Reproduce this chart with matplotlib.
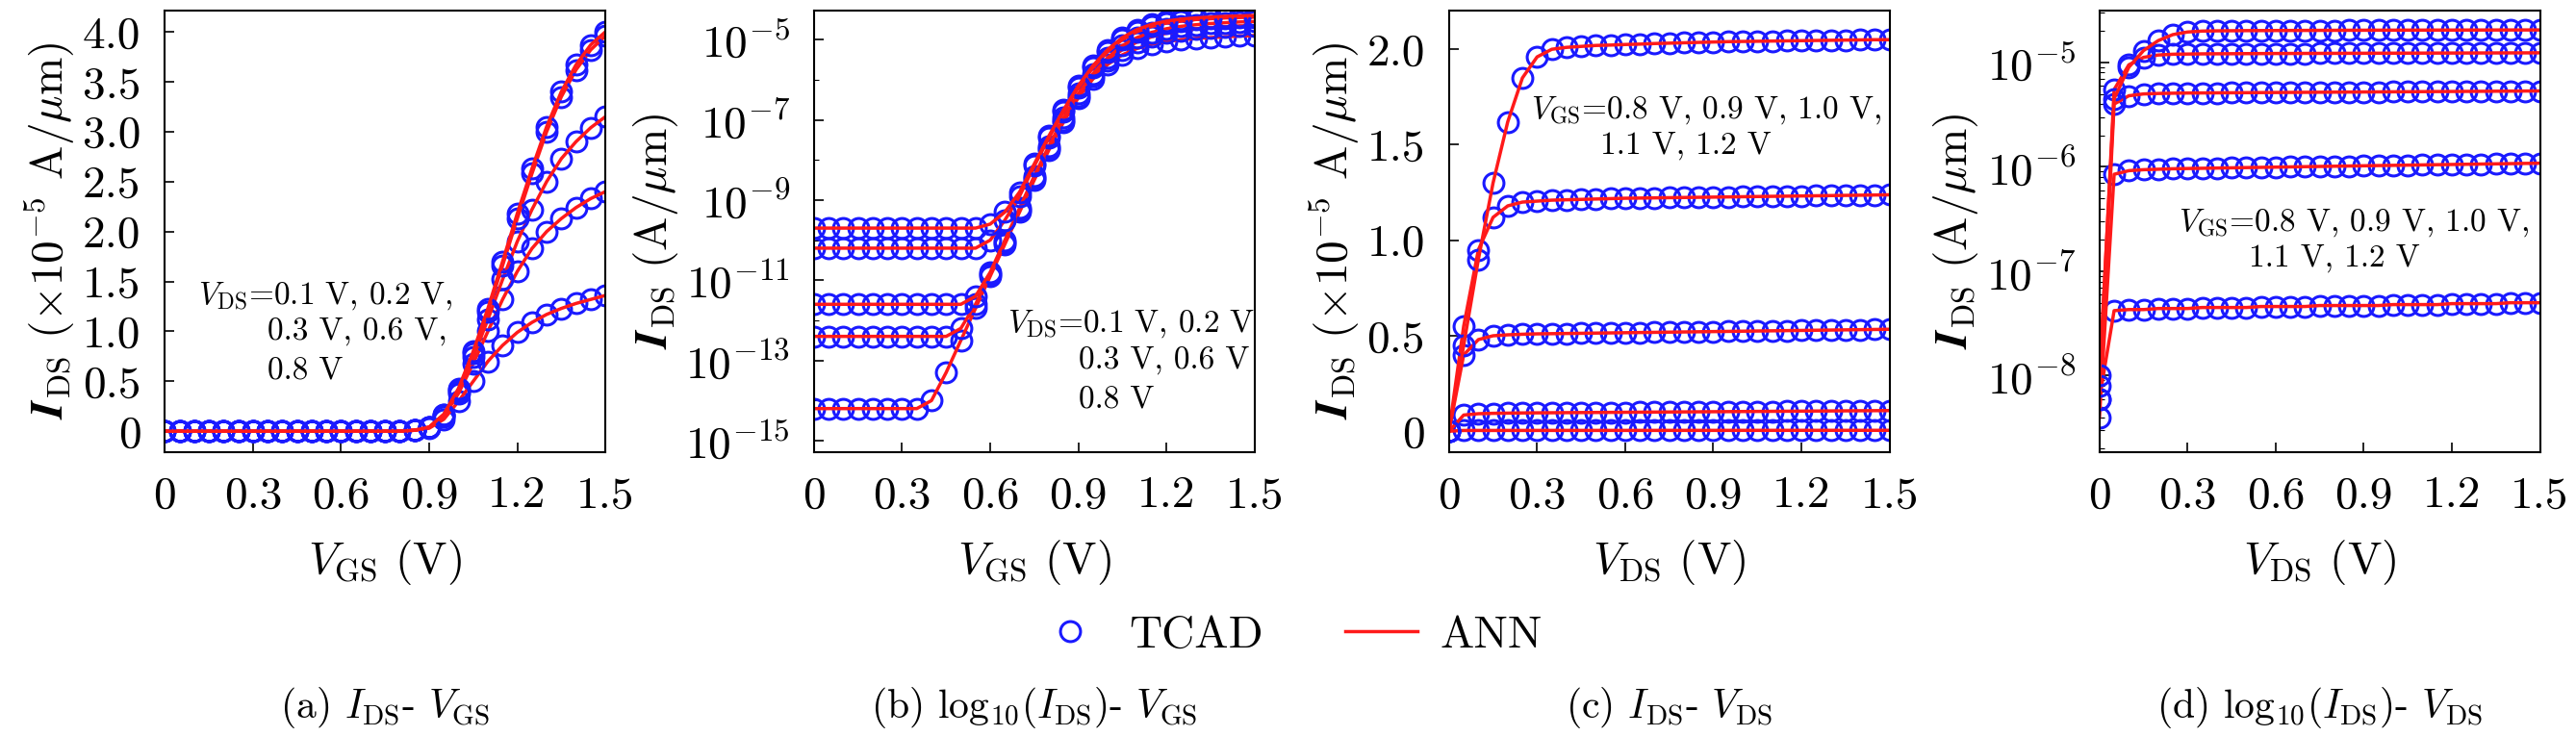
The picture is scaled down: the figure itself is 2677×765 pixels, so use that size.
import numpy as np
import matplotlib
matplotlib.use("Agg")
import matplotlib.pyplot as plt
from matplotlib.lines import Line2D

plt.rcParams['font.family'] = ['cmr10', 'DejaVu Serif']
plt.rcParams['mathtext.fontset'] = 'cm'
plt.rcParams['axes.formatter.use_mathtext'] = True
plt.rcParams['axes.unicode_minus'] = False

# ---------------- data ----------------
vgs = [0.0, 0.05, 0.1, 0.15, 0.2, 0.25, 0.3, 0.35, 0.4, 0.45, 0.5, 0.55, 0.6, 0.65, 0.7, 0.75,
       0.8, 0.85, 0.9, 0.95, 1.0, 1.05, 1.1, 1.15, 1.2, 1.25, 1.3, 1.35, 1.4, 1.45, 1.5]
vds = vgs
vds_labels = ["0.1", "0.2", "0.3", "0.6", "0.8"]
vgs_labels = ["0.8", "0.9", "1.0", "1.1", "1.2"]

zero18 = [0.0] * 17 + [0.01]
# (a) I_DS (x1e-5 A/um) vs V_GS
a_vds01 = zero18 + [0.03, 0.12, 0.30, 0.50, 0.70, 0.86, 0.99, 1.09, 1.17, 1.23, 1.28, 1.32, 1.36]
a_vds02 = zero18 + [0.04, 0.15, 0.38, 0.68, 1.00, 1.32, 1.60, 1.83, 2.00, 2.13, 2.24, 2.33, 2.40]
a_vds03 = zero18 + [0.04, 0.16, 0.40, 0.74, 1.12, 1.52, 1.90, 2.22, 2.50, 2.73, 2.90, 3.04, 3.15]
a_vds06 = zero18 + [0.04, 0.17, 0.42, 0.78, 1.20, 1.66, 2.13, 2.58, 3.00, 3.35, 3.62, 3.82, 3.96]
a_vds08 = zero18 + [0.04, 0.17, 0.43, 0.80, 1.23, 1.70, 2.18, 2.63, 3.05, 3.40, 3.67, 3.87, 4.00]
a_series = [a_vds01, a_vds02, a_vds03, a_vds06, a_vds08]

# (b) log10(I_DS) vs V_GS
b_vds01 = [-14.2]*8 + [-14.0, -13.3, -12.5, -11.7, -10.9, -10.1, -9.3, -8.5, -7.75, -7.05, -6.45, -5.98,
                       -5.62, -5.38, -5.22, -5.12, -5.05, -5.0, -4.97, -4.95, -4.93, -4.91, -4.9]
b_vds02 = [-12.4]*10 + [-12.2, -11.6, -10.85, -10.05, -9.25, -8.45, -7.7, -7.0, -6.4, -5.9, -5.52,
                        -5.25, -5.06, -4.93, -4.84, -4.78, -4.73, -4.7, -4.68, -4.66, -4.65]
b_vds03 = [-11.6]*11 + [-11.4, -10.8, -10.0, -9.2, -8.4, -7.65, -6.95, -6.35, -5.85, -5.45, -5.15,
                        -4.95, -4.82, -4.73, -4.67, -4.63, -4.6, -4.58, -4.56, -4.55]
b_vds06 = [-10.2]*12 + [-10.0, -9.5, -8.9, -8.15, -7.45, -6.8, -6.2, -5.7, -5.3, -5.0, -4.8, -4.67,
                        -4.59, -4.54, -4.5, -4.48, -4.46, -4.45, -4.44]
b_vds08 = [-9.7]*12 + [-9.6, -9.3, -8.8, -8.1, -7.4, -6.75, -6.15, -5.65, -5.25, -4.95, -4.75, -4.62,
                       -4.54, -4.49, -4.46, -4.44, -4.42, -4.41, -4.4]
b_series = [b_vds01, b_vds02, b_vds03, b_vds06, b_vds08]

# (c) I_DS (x1e-5 A/um) vs V_DS
c_vgs08 = [0.0006, 0.0042, 0.0043, 0.0043, 0.0044, 0.0044, 0.0044, 0.0045, 0.0045, 0.0045, 0.0045,
           0.0046, 0.0046, 0.0046, 0.0046, 0.0047, 0.0047, 0.0047, 0.0047, 0.0047, 0.0048, 0.0048,
           0.0048, 0.0048, 0.0049, 0.0049, 0.0049, 0.0049, 0.005, 0.005, 0.005]
c_vgs09 = [0.0004, 0.085, 0.092, 0.094, 0.095, 0.096, 0.0965, 0.097, 0.0975, 0.098, 0.0985, 0.099,
           0.0995, 0.1, 0.1005, 0.101, 0.1015, 0.102, 0.1025, 0.103, 0.1035, 0.104, 0.1045, 0.105,
           0.1055, 0.106, 0.1065, 0.107, 0.1075, 0.108, 0.1085]
c_vgs10 = [0.0006, 0.40, 0.48, 0.50, 0.505, 0.508, 0.51, 0.511, 0.512, 0.513, 0.514, 0.515, 0.516,
           0.517, 0.518, 0.519, 0.52, 0.521, 0.522, 0.523, 0.524, 0.525, 0.526, 0.527, 0.528, 0.529,
           0.53, 0.531, 0.532, 0.533, 0.534]
c_vgs11 = [0.0008, 0.55, 0.95, 1.12, 1.18, 1.2, 1.205, 1.21, 1.212, 1.214, 1.216, 1.218, 1.22, 1.221,
           1.222, 1.223, 1.224, 1.225, 1.226, 1.227, 1.228, 1.229, 1.23, 1.231, 1.232, 1.233, 1.234,
           1.235, 1.236, 1.237, 1.238]
c_vgs12 = [0.001, 0.45, 0.9, 1.3, 1.62, 1.85, 1.96, 2.0, 2.01, 2.015, 2.02, 2.022, 2.025, 2.027, 2.03,
           2.032, 2.034, 2.036, 2.038, 2.04, 2.041, 2.042, 2.043, 2.044, 2.045, 2.046, 2.047, 2.048,
           2.049, 2.05, 2.05]
c_series = [c_vgs08, c_vgs09, c_vgs10, c_vgs11, c_vgs12]

xticks = [0, 0.3, 0.6, 0.9, 1.2, 1.5]
xticklabels = ["0", "0.3", "0.6", "0.9", "1.2", "1.5"]

# ---------------- figure ----------------
fig = plt.figure(figsize=(26.77, 7.65), dpi=100)
bottom, height = 0.386, 0.600
lefts = [0.064, 0.316, 0.5625, 0.815]
width = 0.171
axs = [fig.add_axes([l, bottom, width, height]) for l in lefts]

mk = dict(ls='none', marker='o', ms=15, mfc='none', mec='#1a1aff', mew=2.2)
ln = dict(color='#ff1a1a', lw=2.5)
FS = 34

def style(ax):
    ax.tick_params(direction='in', which='both', labelsize=FS, pad=18)
    ax.tick_params(which='major', length=7, width=1.2)
    ax.tick_params(which='minor', length=3.5, width=0.8)
    for s in ax.spines.values():
        s.set_linewidth(1.5)
    ax.set_xlim(0, 1.5)
    ax.set_xticks(xticks)
    ax.set_xticklabels(xticklabels)

# (a)
ax = axs[0]
for s in a_series:
    ax.plot(vgs, s, **mk)
    ax.plot(vgs, s, **ln)
style(ax)
ax.set_ylim(-0.207, 4.216)
ax.set_yticks([0, 0.5, 1.0, 1.5, 2.0, 2.5, 3.0, 3.5, 4.0])
ax.set_yticklabels(["0", "0.5", "1.0", "1.5", "2.0", "2.5", "3.0", "3.5", "4.0"])
ax.set_xlabel(r"$V_{\rm GS}$ (V)", fontsize=FS, labelpad=16)
ax.set_ylabel(r"$\boldsymbol{I}_{\rm DS}$ ($\times10^{-5}$ A/$\mu$m)", fontsize=FS)
ax.text(0.075, 0.39, r"$V_{\rm DS}$=" + ", ".join(v + " V" for v in vds_labels[:2]) + ",",
        transform=ax.transAxes, fontsize=24, va='top')
ax.text(0.234, 0.305, ", ".join(v + " V" for v in vds_labels[2:4]) + ",\n" + vds_labels[4] + " V",
        transform=ax.transAxes, fontsize=24, va='top', linespacing=1.5)

# (b)
ax = axs[1]
for s in b_series:
    y = 10.0 ** np.array(s)
    ax.plot(vgs, y, **mk)
    ax.plot(vgs, y, **ln)
ax.set_yscale('log')
style(ax)
ax.set_ylim(10 ** -15.28, 10 ** -4.27)
ax.set_yticks([1e-15, 1e-13, 1e-11, 1e-9, 1e-7, 1e-5])
ax.yaxis.set_minor_locator(matplotlib.ticker.LogLocator(base=10, subs=[1.0], numticks=30))
ax.yaxis.set_minor_formatter(matplotlib.ticker.NullFormatter())
ax.set_xlabel(r"$V_{\rm GS}$ (V)", fontsize=FS, labelpad=16)
ax.set_ylabel(r"$\boldsymbol{I}_{\rm DS}$ (A/$\mu$m)", fontsize=FS)
ax.text(0.44, 0.325, r"$V_{\rm DS}$=" + ", ".join(v + " V" for v in vds_labels[:2]),
        transform=ax.transAxes, fontsize=24, va='top')
ax.text(0.60, 0.24, ", ".join(v + " V" for v in vds_labels[2:4]) + "\n" + vds_labels[4] + " V",
        transform=ax.transAxes, fontsize=24, va='top', linespacing=1.5)

# (c)
ax = axs[2]
for s in c_series:
    ax.plot(vds, s, **mk)
    ax.plot(vds, s, **ln)
style(ax)
ax.set_ylim(-0.108, 2.204)
ax.set_yticks([0, 0.5, 1.0, 1.5, 2.0])
ax.set_yticklabels(["0", "0.5", "1.0", "1.5", "2.0"])
ax.set_xlabel(r"$V_{\rm DS}$ (V)", fontsize=FS, labelpad=16)
ax.set_ylabel(r"$\boldsymbol{I}_{\rm DS}$ ($\times10^{-5}$ A/$\mu$m)", fontsize=FS)
ax.text(0.186, 0.81, r"$V_{\rm GS}$=" + ", ".join(v + " V" for v in vgs_labels[:3]) + ",",
        transform=ax.transAxes, fontsize=24, va='top')
ax.text(0.344, 0.725, ", ".join(v + " V" for v in vgs_labels[3:]),
        transform=ax.transAxes, fontsize=24, va='top')

# (d)
ax = axs[3]
for s in c_series:
    y = np.array(s) * 1e-5
    ax.plot(vds, y, **mk)
    ax.plot(vds, y, **ln)
ax.set_yscale('log')
style(ax)
ax.set_ylim(10 ** -8.73, 10 ** -4.5)
ax.set_yticks([1e-8, 1e-7, 1e-6, 1e-5])
ax.yaxis.set_minor_locator(matplotlib.ticker.LogLocator(base=10, subs=np.arange(2, 10), numticks=30))
ax.yaxis.set_minor_formatter(matplotlib.ticker.NullFormatter())
ax.set_xlabel(r"$V_{\rm DS}$ (V)", fontsize=FS, labelpad=16)
ax.set_ylabel(r"$\boldsymbol{I}_{\rm DS}$ (A/$\mu$m)", fontsize=FS)
ax.text(0.18, 0.555, r"$V_{\rm GS}$=" + ", ".join(v + " V" for v in vgs_labels[:3]) + ",",
        transform=ax.transAxes, fontsize=24, va='top')
ax.text(0.34, 0.47, ", ".join(v + " V" for v in vgs_labels[3:]),
        transform=ax.transAxes, fontsize=24, va='top')

# legend
handles = [Line2D([], [], ls='none', marker='o', ms=15, mfc='none', mec='#1a1aff', mew=2.2),
           Line2D([], [], color='#ff1a1a', lw=2.5)]
fig.legend(handles, ["TCAD", "ANN"], loc='center', bbox_to_anchor=(0.5, 0.136), ncol=2,
           frameon=False, fontsize=FS, columnspacing=1.8, handlelength=1.6, handletextpad=0.5)

# captions
caps = [r"(a) $I_{\rm DS}$- $V_{\rm GS}$", r"(b) log$_{10}$($I_{\rm DS}$)- $V_{\rm GS}$",
        r"(c) $I_{\rm DS}$- $V_{\rm DS}$", r"(d) log$_{10}$($I_{\rm DS}$)- $V_{\rm DS}$"]
for l, c in zip(lefts, caps):
    fig.text(l + width / 2, 0.038, c, ha='center', va='center', fontsize=30)

fig.savefig("out.png", dpi=100)
